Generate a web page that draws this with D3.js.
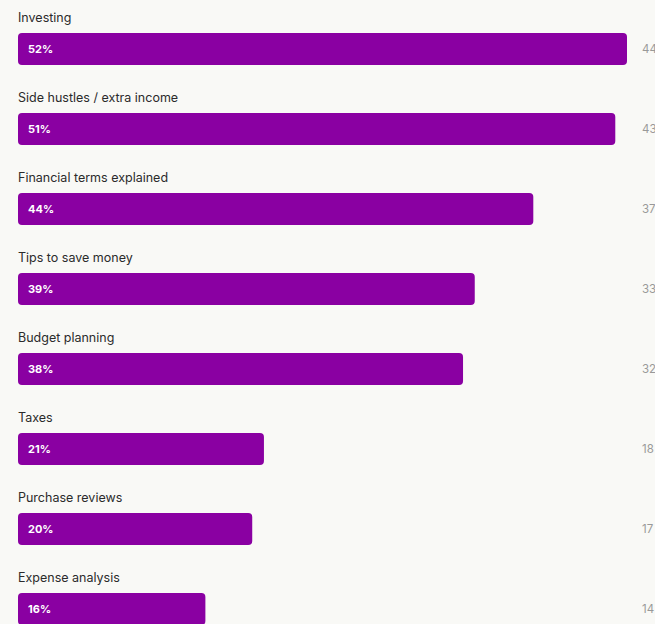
<!DOCTYPE html>
<html lang="en">
<head>
    <meta charset="UTF-8">
    <title>Topics bar chart</title>
    <script src="https://d3js.org/d3.v7.min.js"></script>
    <style>
        body{
            margin:0;
            background-color:#f9f9f6;
        }
        svg{
            display:block;
            font-family:Inter, "Noto Sans", sans-serif;
        }
    </style>
</head>
<body>
    <script>
        const categories = ["Investing","Side hustles / extra income","Financial terms explained","Tips to save money","Budget planning","Taxes","Purchase reviews","Expense analysis"];
        const percents = [52,51,44,39,38,21,20,16];
        const counts = [44,43,37,33,32,18,17,14];

        const w = 655;
        const h = 624;
        const margin = {left:18,top:0};
        const rowH = 80;
        const barH = 32;

        const svg = d3.select("body").append("svg").attr("width",w).attr("height",h);

        const xScale = d3.scaleLinear().domain([0,d3.max(percents)]).range([0,609]);
        const yScale = d3.scaleBand().domain(categories).range([margin.top,margin.top+rowH*categories.length]);

        const rows = svg.selectAll("g.row")
            .data(categories)
            .enter()
            .append("g")
            .attr("class","row")
            .attr("transform",function(d){ return "translate(0,"+yScale(d)+")"; });

        rows.append("text")
            .attr("x",margin.left)
            .attr("y",22)
            .attr("fill","#2b2b2b")
            .style("font-size","12.5px")
            .text(function(d){ return d; });

        rows.append("rect")
            .attr("x",margin.left)
            .attr("y",33)
            .attr("rx",4)
            .attr("width",function(d,i){ return xScale(percents[i]); })
            .attr("height",barH)
            .attr("fill","#8a00a2");

        rows.append("text")
            .attr("x",margin.left+10)
            .attr("y",33+barH/2)
            .attr("dy","0.35em")
            .attr("fill","#ffffff")
            .style("font-size","11px")
            .style("font-weight","700")
            .text(function(d,i){ return percents[i]+"%"; });

        rows.append("text")
            .attr("x",642)
            .attr("y",33+barH/2)
            .attr("dy","0.35em")
            .attr("fill","#999999")
            .style("font-size","11.5px")
            .text(function(d,i){ return counts[i]; });
    </script>
</body>
</html>
